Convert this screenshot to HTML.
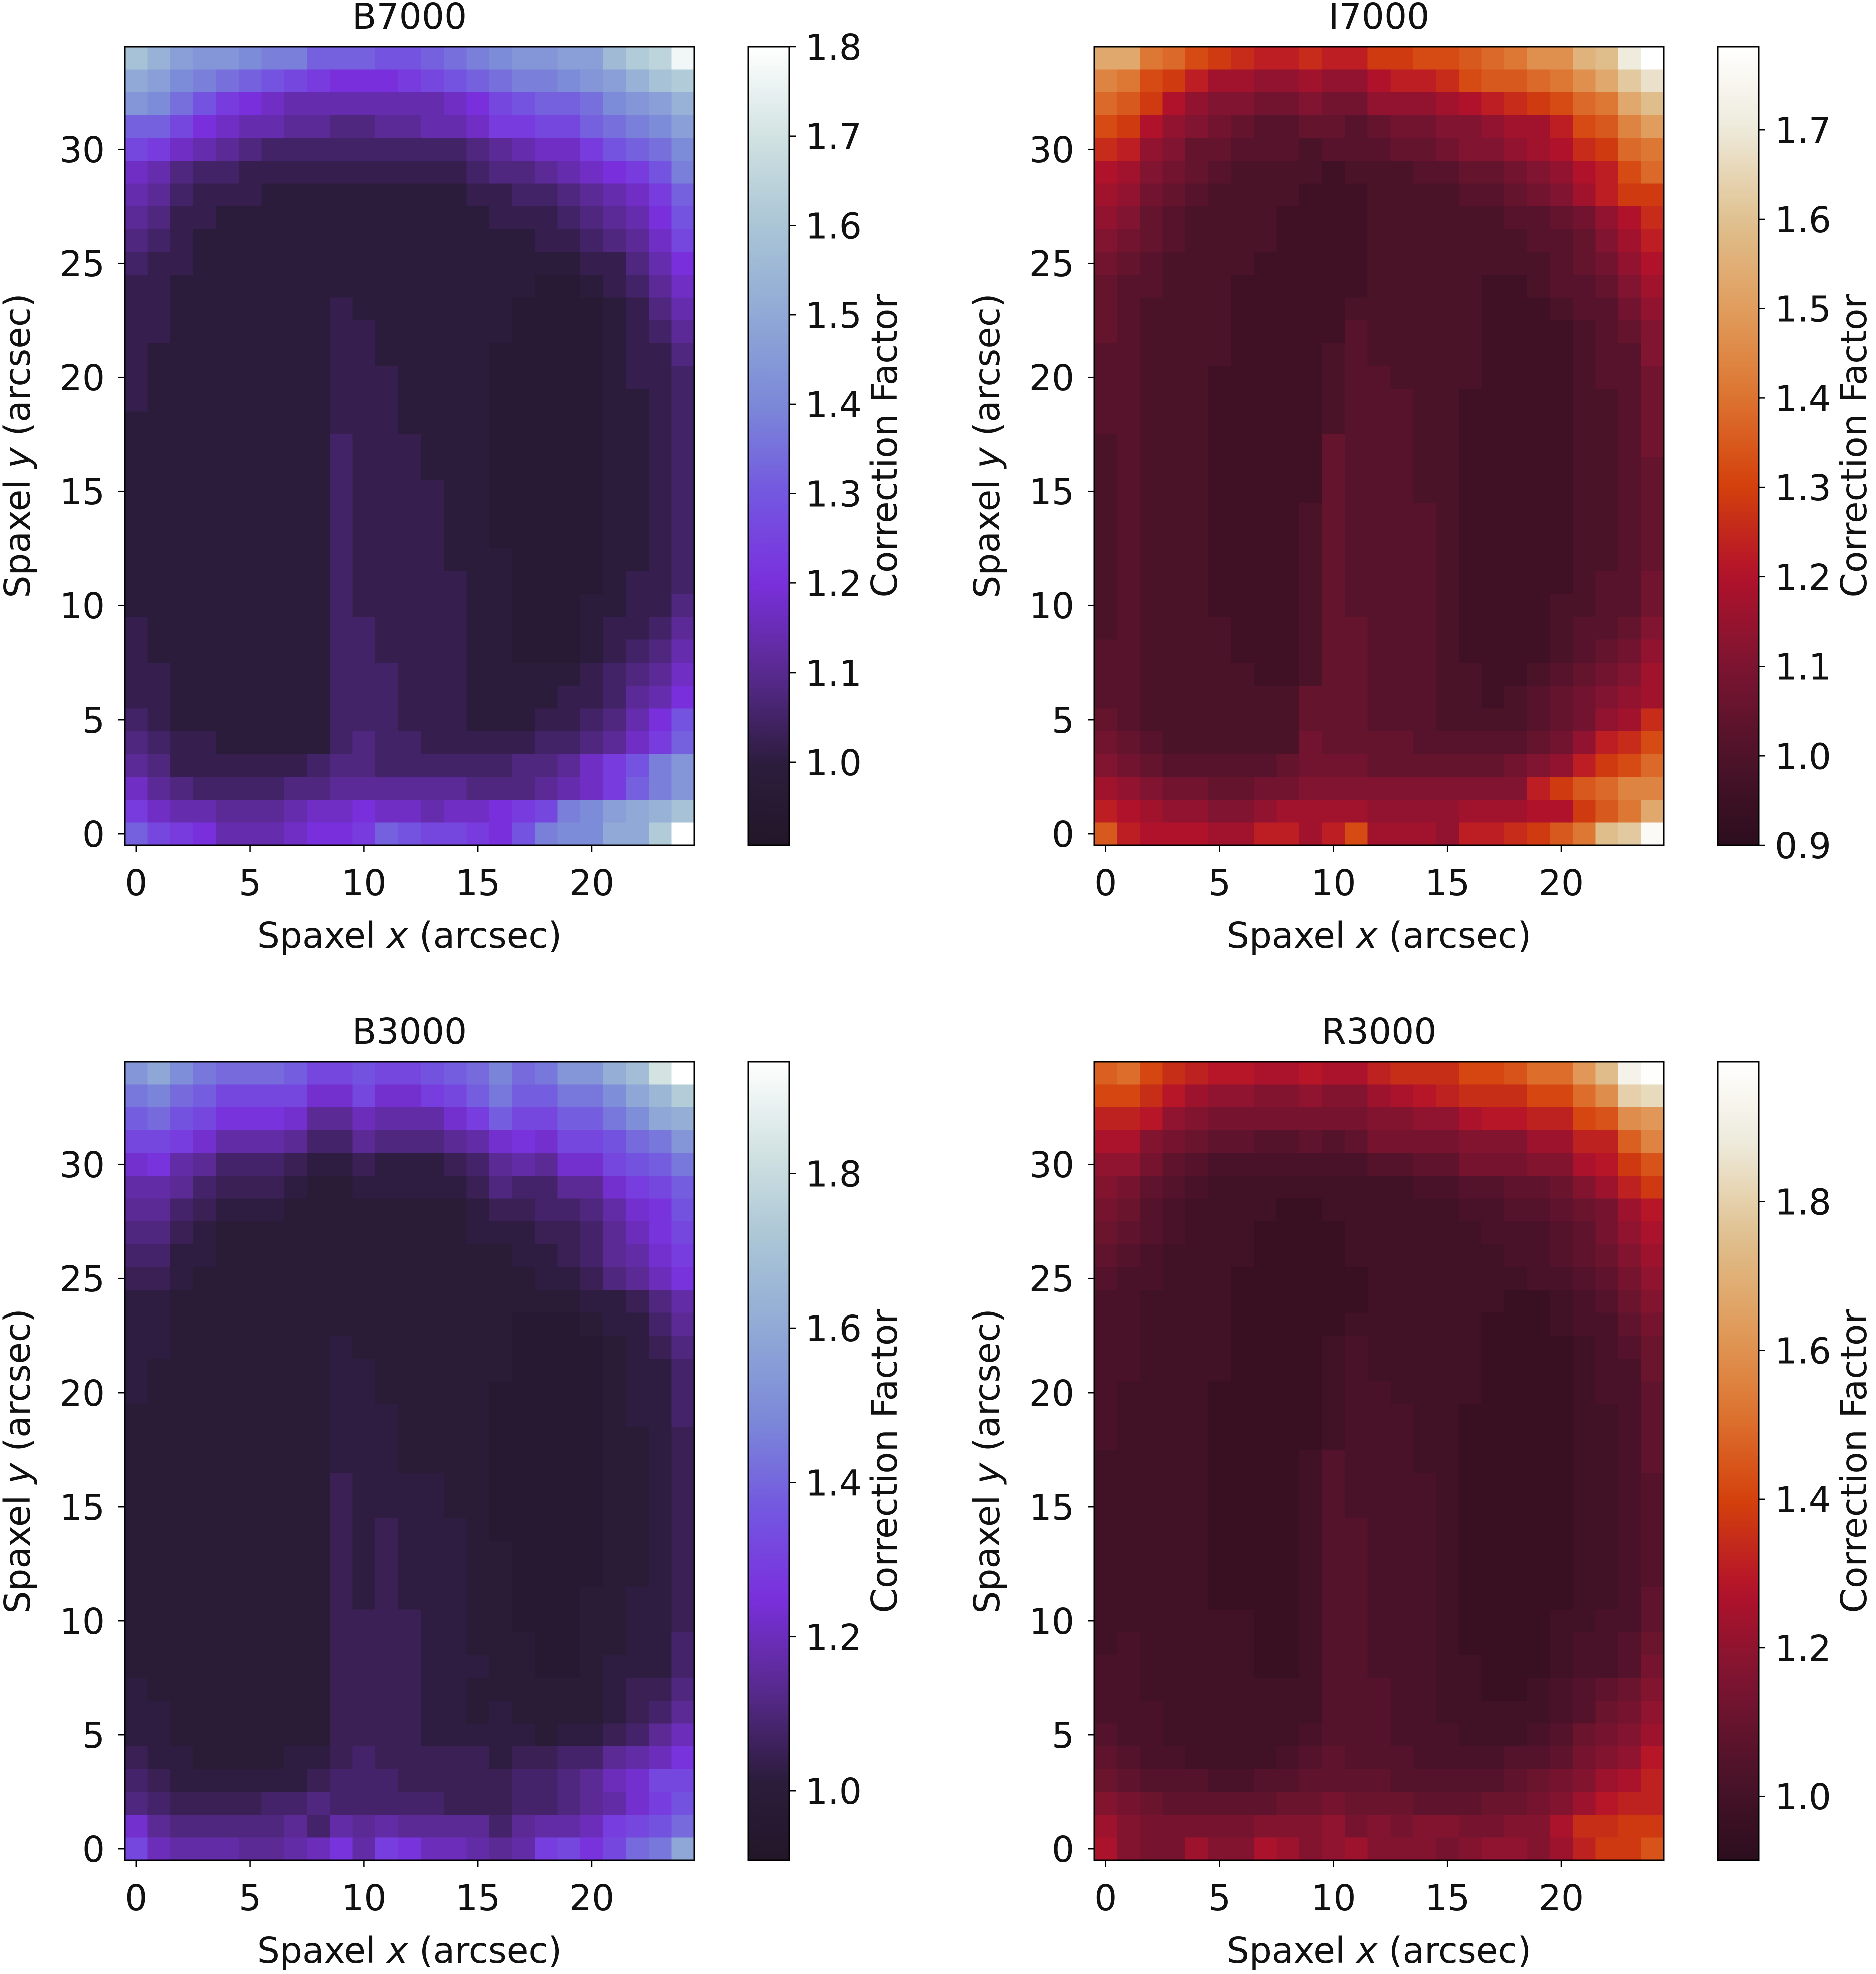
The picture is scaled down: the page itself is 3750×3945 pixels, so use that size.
<!DOCTYPE html>
<html><head><meta charset="utf-8">
<style>
html,body{margin:0;padding:0;background:#fff;}
svg{display:block;font-family:"DejaVu Sans","Liberation Sans",sans-serif;}
</style></head>
<body>
<svg id="fig" width="3750" height="3945" viewBox="0 0 3750 3945" xmlns="http://www.w3.org/2000/svg">
<rect width="3750" height="3945" fill="#fff"/>
</svg>
<script>
// ---- data: each string is one row of spaxels (top row y=34 first); char = base36 level, value = 0.93 + level*0.03
const xTicks = [0,5,10,15,20];
const yTicks = [0,5,10,15,20,25,30];
const titles = ["B7000","I7000","B3000","R3000"];
const cbTicksB7000 = ["1.0","1.1","1.2","1.3","1.4","1.5","1.6","1.7","1.8"];
const cbTicksI7000 = ["0.9","1.0","1.1","1.2","1.3","1.4","1.5","1.6","1.7"];
const cbTicksB3000 = ["1.0","1.2","1.4","1.6","1.8"];
const cbTicksR3000 = ["1.0","1.2","1.4","1.6","1.8"];
const rangeB7000 = [0.907,1.800];
const rangeI7000 = [0.900,1.793];
const rangeB3000 = [0.910,1.945];
const rangeR3000 = [0.914,1.988];
const gridB7000 = [
"mkihhgffdddccdefghhiilnos","jigfedcba999abcdeffghikmn","hgeca98777777789bcddeghikl","ddb9877665566778aabbdefgi",
"ba876544444444456788acdeg","8754433333333334556789acf","76433322222222233445678ad","653322222222222233345679c",
"543222222222222222334568b","4332222222222222222233579","3322222222222222221123468","3322222223222222211112357",
"3322222223322222211112346","3222222223322222111112335","3222222223332222111112334","3222222223332222111112234",
"2222222223332222111112234","2222222224333222111112234","2222222224333222111112234","2222222224333322111112234",
"2222222224333322111112234","2222222224333322111112234","2222222224333322211112234","2222222224333332211112334",
"2222222224333332211122335","3222222224433332211123346","3222222224433332211123457","3322222224443332222234568",
"3322222224443332222334679","432222222444333222334579c","54332222245443333344568ad","653333334554444445568acfh",
"865444455666666555678adfhj","a8776667889887889abfgijkm","dba9777899adcbba9cfggjjnuu"];
const gridI7000 = [
"kkgfdcbaabaaccddefgiilmqt","hgdca88778779aabdeefgiknp","fec97665565577789abcdfgkm","dc976543344345566788adehj",
"ba7644333233344566789bcfg","9865432222122233445679adf","8754322221112222334568ac","764322221111222222334579b",
"654322221111222222233468a","5432222111112222222234579","4332221111112222211233468","4322221111122222211123357",
"4322221111132222211112346","3322221111232222211112336","3322211111233222211112335","3322211111233322111112235",
"3322211111233322111112235","2322211111433322111112235","2322211111433322111112234","2322211111433322111112234",
"2322211112433332111112234","2322211112433332111112234","2322211112433332111112234","2322211112433332111112335",
"2322211112433332111122335","2322221112443332111123346","3322221112443332111123457","3322222112443332211234568",
"3322222224443332212345678","432222222444333222234578b","5432222225444433333457abd","654333334555444444567acdf",
"8765544556666666666acefh","a98776678888777788899cegk","ea99988aa8ad8887aabcegmns"];
const gridB3000 = [
"kmjhgggfddeddefgighkknpuz","higfddddaadaacdfhffhhjmor","fgedbbba779888acfddffhjmn","ddca888755766678abaddeghk",
"ab87555433433345787aadefh","887544432233333465577acdf","7754333222222223445568abe","66432222222222233344579bd",
"55332222222222222334578ac","443222222222222222334679b","3322222222222222222233468","3322222222222222211123357",
"3322222223222222211112346","3222222223322222211112335","3222222223322222111112335","2222222223332222111112335",
"2222222223332222111112234","2222222223332222111112234","2222222224333322111112234","2222222224333322111112234",
"2222222224343332111112234","2222222224343332211112234","2222222224343332211112234","2222222224343332211122334",
"2222222224444332211122334","2222222224444332221122335","2222222224444333221123335","3222222224444332222223446",
"3322222224444332322223457","3322222224444333332334579","433222233454444434455789b","5433333345554444455679ad",
"6544445565555544455678ace","a76666675878777757889cdeg","d98887789b8cb99878cdbdghm"];
const gridR3000 = [
"ijgedccbbcbbdeeegghjjnrxz","ggeca9988988abcdeeeggjmtu","ddc9877777778899bccddghmn","bb87655445457777888aaddil",
"997543333333445577788bcfh","8754322222222233445568adf","76432222112222223344567acd","654322211112222223334579bc",
"543222211112222222334568ab","4332221111112222222334579","3322221111112222221123468","3322221111122222211123357",
"3322221111232222211112346","3322221111232222211112336","3222211111233222211112335","3222211111233322111112235",
"3222211111233322111112235","2222211112433322111112235","2222211112433332111112234","2222211112433332111112234",
"2222211112443332111112234","2222211112443332111112234","2222211112443332111112234","2222211112443332111112235",
"2222222112443332111122335","2322222112443332111123346","3322222112443332211123347","3322222222444332211234568",
"3332222222444332222234679","433222222344433322234678a","543322223454443333445789c","6544433445555444445678abd",
"876555556676665556678acdd","a8777778889787887788beef","b877a88ba89a88878998adffh"];

const cmapPurple = [[0,"#221628"],[0.1,"#2c1c3c"],[0.22,"#5a2a92"],[0.33,"#7a30dd"],[0.44,"#7357e0"],[0.55,"#7b88d8"],[0.66,"#8fa8d6"],[0.78,"#abc6d6"],[0.89,"#d2e3e2"],[1,"#ffffff"]];
const cmapRed = [[0,"#2b0e1e"],[0.11,"#4d1329"],[0.22,"#7a1431"],[0.34,"#b3122b"],[0.45,"#d4400c"],[0.56,"#dd7430"],[0.67,"#e09c5c"],[0.78,"#dfc08e"],[0.9,"#eeebdc"],[1,"#ffffff"]];

const NS = "http://www.w3.org/2000/svg";
const svg = document.getElementById("fig");
function mk(tag, attrs, parent){const e=document.createElementNS(NS,tag);for(const k in attrs)e.setAttribute(k,attrs[k]);(parent||svg).appendChild(e);return e;}
function hex2rgb(h){return [parseInt(h.slice(1,3),16),parseInt(h.slice(3,5),16),parseInt(h.slice(5,7),16)];}
function cmapColor(cm,t){t=Math.max(0,Math.min(1,t));for(let i=1;i<cm.length;i++){if(t<=cm[i][0]){const a=cm[i-1],b=cm[i];const f=(t-a[0])/(b[0]-a[0]);const ca=hex2rgb(a[1]),cb=hex2rgb(b[1]);return "rgb("+ca.map((v,k)=>Math.round(v+(cb[k]-v)*f)).join(",")+")";}}return cm[cm.length-1][1];}
function decodeRow(s){const out=[];for(let j=0;j<25;j++){const c=s[Math.min(j,s.length-1)];out.push(0.93+parseInt(c,36)*0.03);}return out;}

const FS = 71;
const panels = [
 {title:titles[0],ox:249,oy:93,grid:gridB7000,range:rangeB7000,cm:cmapPurple,cb:cbTicksB7000,id:"b7000"},
 {title:titles[1],ox:2187,oy:93,grid:gridI7000,range:rangeI7000,cm:cmapRed,cb:cbTicksI7000,id:"i7000"},
 {title:titles[2],ox:249,oy:2122,grid:gridB3000,range:rangeB3000,cm:cmapPurple,cb:cbTicksB3000,id:"b3000"},
 {title:titles[3],ox:2187,oy:2122,grid:gridR3000,range:rangeR3000,cm:cmapRed,cb:cbTicksR3000,id:"r3000"}
];
const W=1139,H=1596,NX=25,NY=35;

panels.forEach((p,pi)=>{
  const g = mk("g",{});
  
  
  const xs = v => p.ox + (v+0.5)/NX*W;
  const ys = v => p.oy + H - (v+0.5)/NY*H;
  const hm = mk("g",{"shape-rendering":"crispEdges"},g);
  
  
  p.grid.forEach((rowStr,ri)=>{
    const yv = NY-1-ri;
    decodeRow(rowStr).forEach((val,j)=>{
      const x0=xs(j-0.5),x1=xs(j+0.5),y0=ys(yv+0.5),y1=ys(yv-0.5);
      const r=mk("rect",{x:x0.toFixed(2),y:y0.toFixed(2),width:(x1-x0+0.6).toFixed(2),height:(y1-y0+0.6).toFixed(2),fill:cmapColor(p.cm,(val-p.range[0])/(p.range[1]-p.range[0]))},hm);
      
      
    });
  });
  const frame=mk("rect",{x:p.ox,y:p.oy,width:W,height:H,fill:"none",stroke:"#000","stroke-width":3},g);
  
  
  const t=mk("text",{x:p.ox+W/2,y:p.oy-36,"text-anchor":"middle","font-size":FS,fill:"#111"},g);
  t.textContent=p.title;
  
  
  xTicks.forEach(v=>{
    const x=xs(v);
    mk("line",{x1:x,x2:x,y1:p.oy+H,y2:p.oy+H+13,stroke:"#000","stroke-width":2.5},g);
    const l=mk("text",{x:x,y:p.oy+H+100,"text-anchor":"middle","font-size":FS,fill:"#111"},g);
    l.textContent=String(v);
    
    
  });
  yTicks.forEach(v=>{
    const y=ys(v);
    mk("line",{x1:p.ox-13,x2:p.ox,y1:y,y2:y,stroke:"#000","stroke-width":2.5},g);
    const l=mk("text",{x:p.ox-40,y:y+26,"text-anchor":"end","font-size":FS,fill:"#111"},g);
    l.textContent=String(v);
    
    
  });
  const xl=mk("text",{x:p.ox+W/2,y:p.oy+H+205,"text-anchor":"middle","font-size":FS,fill:"#111"},g);
  xl.innerHTML='Spaxel <tspan font-style="italic">x</tspan> (arcsec)';
  
  
  const ylx=p.ox-190, yly=p.oy+H/2;
  const yl=mk("text",{x:ylx,y:yly,"text-anchor":"middle","font-size":FS,fill:"#111",transform:"rotate(-90 "+ylx+" "+yly+")"},g);
  yl.innerHTML='Spaxel <tspan font-style="italic">y</tspan> (arcsec)';
  
  
  // colorbar
  const cbx=p.ox+1247, cbw=82;
  const gid="grad"+pi;
  const grad=mk("linearGradient",{id:gid,x1:0,y1:1,x2:0,y2:0},mk("defs",{},g));
  for(let k=0;k<=40;k++){mk("stop",{offset:k/40,"stop-color":cmapColor(p.cm,k/40)},grad);}
  const cbr=mk("rect",{x:cbx,y:p.oy,width:cbw,height:H,fill:"url(#"+gid+")",stroke:"#000","stroke-width":3},g);
  
  
  p.cb.forEach(lbl=>{
    const v=parseFloat(lbl);
    const y=p.oy+H-(v-p.range[0])/(p.range[1]-p.range[0])*H;
    mk("line",{x1:cbx+cbw,x2:cbx+cbw+13,y1:y,y2:y,stroke:"#000","stroke-width":2.5},g);
    const l=mk("text",{x:cbx+cbw+32,y:y+26,"font-size":FS,fill:"#111"},g);
    l.textContent=lbl;
    
    
  });
  const cfx=cbx+cbw+215, cfy=p.oy+H/2;
  const cf=mk("text",{x:cfx,y:cfy,"text-anchor":"middle","font-size":FS,fill:"#111",transform:"rotate(-90 "+cfx+" "+cfy+")"},g);
  cf.textContent="Correction Factor";
  
  
});
</script>
</body></html>
